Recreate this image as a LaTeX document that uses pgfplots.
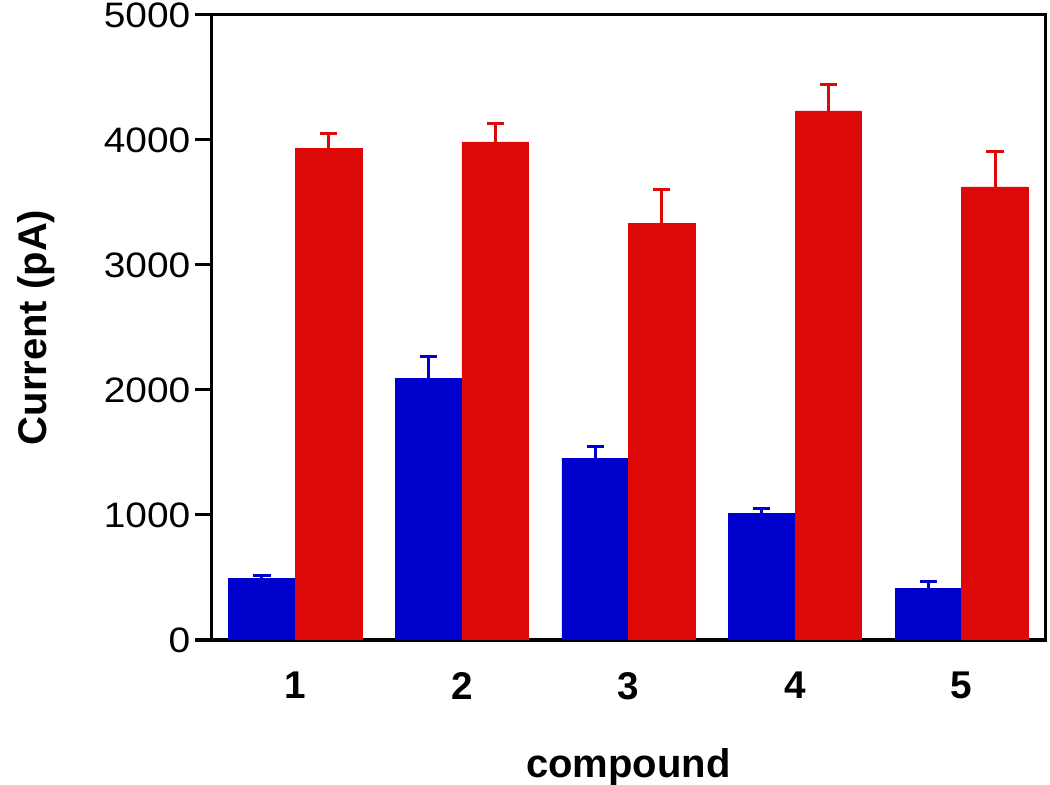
\documentclass[border=0pt]{standalone}
\usepackage{pgfplots}
\pgfplotsset{compat=1.18}
\usepackage{fontspec}
\setmainfont{Liberation Sans}
\newfontfamily\tickfont[FakeStretch=1.1]{Liberation Sans}
\definecolor{barblue}{RGB}{0,0,205}
\definecolor{barred}{RGB}{221,8,8}
\begin{document}
\begin{tikzpicture}[x=1pt,y=1pt]
\useasboundingbox (-159,-108.75) rectangle (628.5,480);
\begin{axis}[at={(0,0)}, anchor=south west, scale only axis,
  width=624.75pt, height=468.75pt,
  xmin=0.5, xmax=5.5, ymin=0, ymax=5000,
  axis line style={line width=2.25pt},
  xtick={1,2,3,4,5}, xtick style={draw=none},
  ytick={0,1000,2000,3000,4000,5000}, ytick pos=left, tick align=outside,
  major tick length=12.75pt, ytick style={line width=2.25pt, black},
  /pgf/number format/assume math mode=true,
  /pgf/number format/1000 sep={},
  yticklabel style={font=\tickfont\fontsize{26.5}{32}\selectfont},
  xticklabel style={font=\fontsize{29}{34}\selectfont\bfseries, yshift=-8pt},
  xlabel={compound}, ylabel={Current (pA)},
  label style={font=\fontsize{30}{36}\selectfont\bfseries},
  xlabel style={at={(axis description cs:0.5,-0.1728)}, anchor=north, inner sep=0pt},
  ylabel style={at={(axis description cs:-0.1885,0.5)}, anchor=south, inner sep=0pt},
  ybar, bar width=0.4,
]
\addplot[bar shift=0pt, fill=barblue, draw=barblue,
  error bars/.cd, y dir=plus, y explicit,
  error bar style={line width=2.25pt, barblue},
  error mark options={rotate=90, mark size=6.4pt, line width=2.25pt, barblue}]
  table[x=x, y=y, y error=e] {
x y e
0.8 490 25
1.8 2095 175
2.8 1455 90
3.8 1015 40
4.8 415 50
};
\addplot[bar shift=0pt, fill=barred, draw=barred,
  error bars/.cd, y dir=plus, y explicit,
  error bar style={line width=2.25pt, barred},
  error mark options={rotate=90, mark size=6.4pt, line width=2.25pt, barred}]
  table[x=x, y=y, y error=e] {
x y e
1.2 3935 120
2.2 3985 150
3.2 3335 265
4.2 4232 215
5.2 3625 280
};
\end{axis}
\end{tikzpicture}
\end{document}
